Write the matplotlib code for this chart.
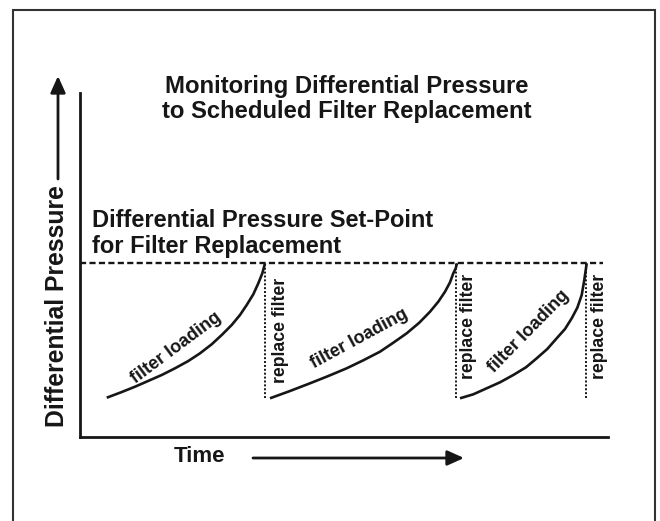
import matplotlib
matplotlib.use('Agg')
import matplotlib.pyplot as plt

plt.rcParams['font.family'] = ['Liberation Sans', 'DejaVu Sans']

# schematic units: time 0..10, pressure 0..10
set_point = 5.05
start_pressure = 1.13

curve1_t = [0.506, 0.777, 1.042, 1.547, 1.799, 2.051, 2.273, 2.494, 2.684,
            2.873, 3.030, 3.157, 3.282, 3.377, 3.453, 3.504]
curve1_p = [1.142, 1.299, 1.462, 1.802, 1.997, 2.209, 2.433, 2.695, 2.965,
            3.256, 3.547, 3.837, 4.148, 4.468, 4.759, 5.05]
curve2_t = [3.598, 3.977, 4.356, 4.703, 5.051, 5.366, 5.682, 5.934, 6.188,
            6.426, 6.629, 6.786, 6.913, 7.008, 7.070, 7.116, 7.140]
curve2_p = [1.125, 1.337, 1.561, 1.773, 1.997, 2.230, 2.480, 2.741, 3.015,
            3.323, 3.642, 3.933, 4.224, 4.497, 4.759, 4.904, 5.05]
curve3_t = [7.197, 7.449, 7.703, 7.955, 8.206, 8.447, 8.650, 8.850, 9.028,
            9.186, 9.313, 9.419, 9.502, 9.551, 9.597]
curve3_p = [1.125, 1.241, 1.416, 1.590, 1.802, 2.026, 2.288, 2.558, 2.869,
            3.140, 3.451, 3.759, 4.128, 4.564, 5.05]

replace_times = [3.50, 7.13, 9.58]
replace_label_t = [3.79, 7.35, 9.83]
replace_label_p = [3.11, 3.20, 3.22]

loading_label_t = [1.83, 5.30, 8.49]
loading_label_p = [2.58, 2.87, 3.06]
loading_label_rot = [36.7, 28.5, 45.6]

set_point_end = 9.9

ink = '#161616'

W, H = 660, 521
fig = plt.figure(figsize=(W / 100, H / 100), dpi=100)

# overlay in pixel coords for border, arrows and outer labels
ov = fig.add_axes([0, 0, 1, 1])
ov.set_xlim(0, W)
ov.set_ylim(H, 0)
ov.axis('off')

ov.plot([13, 13, 655, 655], [H + 5, 10, 10, H + 5], color='#333333', lw=1.5,
        solid_joinstyle='miter')

ov.text(347, 93, 'Monitoring Differential Pressure', ha='center', va='baseline',
        fontsize=17.2, fontweight='bold', color=ink)
ov.text(347, 118, 'to Scheduled Filter Replacement', ha='center', va='baseline',
        fontsize=17.2, fontweight='bold', color=ink)

ov.text(57, 306, 'Differential Pressure', rotation=90, ha='center', va='center',
        fontsize=17.8, fontweight='bold', color=ink)
ov.annotate('', xy=(58, 76), xytext=(58, 179),
            arrowprops=dict(arrowstyle='-|>,head_length=1.0,head_width=0.45',
                            lw=2, color=ink, shrinkA=0, shrinkB=0))

ov.text(199, 457, 'Time', ha='center', va='center', fontsize=16,
        fontweight='bold', color=ink)
ov.annotate('', xy=(464, 458), xytext=(253, 458),
            arrowprops=dict(arrowstyle='-|>,head_length=1.0,head_width=0.45',
                            lw=2, color=ink, shrinkA=0, shrinkB=0))

# main schematic axes
ax = fig.add_axes([80 / W, (H - 437) / H, (608 - 80) / W, (437 - 93) / H])
ax.set_xlim(0, 10)
ax.set_ylim(0, 10)
ax.patch.set_alpha(0)
for side in ['top', 'right']:
    ax.spines[side].set_visible(False)
for side in ['left', 'bottom']:
    ax.spines[side].set_linewidth(2)
    ax.spines[side].set_color(ink)
ax.set_xticks([])
ax.set_yticks([])

ax.plot([0, set_point_end], [set_point, set_point], color=ink, lw=1.7,
        linestyle=(0, (2.6, 1.4)))

for ct, cp in [(curve1_t, curve1_p), (curve2_t, curve2_p), (curve3_t, curve3_p)]:
    ax.plot(ct, cp, color=ink, lw=1.9, solid_capstyle='butt',
            solid_joinstyle='round')

for rt in replace_times:
    ax.plot([rt, rt], [start_pressure, set_point], color=ink, lw=1.4,
            linestyle=(0, (1, 1)))

for x, y in zip(replace_label_t, replace_label_p):
    ax.text(x, y, 'replace filter', rotation=90, ha='center', va='center',
            fontsize=12.7, fontweight='bold', color=ink)

for x, y, r in zip(loading_label_t, loading_label_p, loading_label_rot):
    ax.text(x, y, 'filter loading', rotation=r, rotation_mode='anchor',
            ha='center', va='center', fontsize=13, fontweight='bold', color=ink)

ax.text(0.22, 6.11, 'Differential Pressure Set-Point', ha='left', va='baseline',
        fontsize=17, fontweight='bold', color=ink)
ax.text(0.22, 5.36, 'for Filter Replacement', ha='left', va='baseline',
        fontsize=17, fontweight='bold', color=ink)

fig.savefig('out.png', dpi=100)
